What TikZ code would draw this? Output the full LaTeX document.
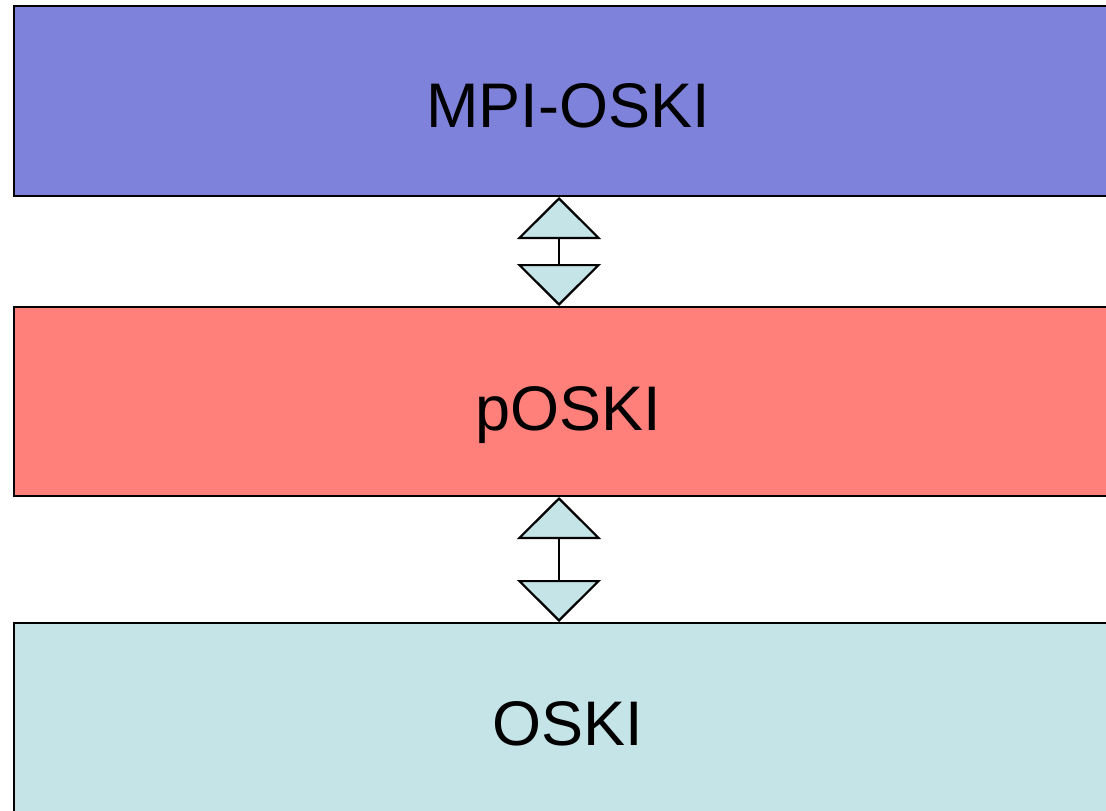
\documentclass[tikz,border=0pt]{standalone}
\usepackage{fontspec}
\setmainfont{Liberation Sans}
\usetikzlibrary{arrows.meta}
\definecolor{layerblue}{RGB}{127,130,218}
\definecolor{layerred}{RGB}{255,128,122}
\definecolor{layercyan}{RGB}{196,228,232}
\begin{document}
\begin{tikzpicture}[x=1pt,y=-1pt,
  layer/.style={draw=black, line width=2pt, minimum width=1108pt, minimum height=190pt,
    inner sep=0pt, anchor=north west},
  caption/.style={font=\fontsize{63}{75}\selectfont, text height=45pt, text depth=0pt,
    inner sep=0pt},
  linktip/.style={Triangle[width=84pt,length=42pt,fill=layercyan,line join=round]},
  link/.style={line width=2.2pt, draw=black, {Triangle[width=84pt,length=42pt,fill=layercyan]}-{Triangle[width=84pt,length=42pt,fill=layercyan]}}]
\useasboundingbox (0,0) rectangle (1106,811);
\clip (0,0) rectangle (1106,811);
\fill[white] (0,0) rectangle (1106,811);

% the three software layers
\node[layer, fill=layerblue] (mpi) at (13,5) {};
\node[layer, fill=layerred, minimum height=189pt] (poski) at (13,306) {};
\node[layer, fill=layercyan] (oski) at (13,622) {};

\node[caption, yshift=-4pt] (mpitext) at (mpi.center) {MPI-OSKI};
\node[caption, yshift=-6pt] (poskitext) at (poski.center) {pOSKI};
\node[caption, yshift=-5pt] (oskitext) at (oski.center) {OSKI};

% two-way links between neighbouring layers
\coordinate (axis) at (559,0);
\draw[link] (mpi.south -| axis) -- (poski.north -| axis);
\draw[link] (poski.south -| axis) -- (oski.north -| axis);
\end{tikzpicture}
\end{document}
